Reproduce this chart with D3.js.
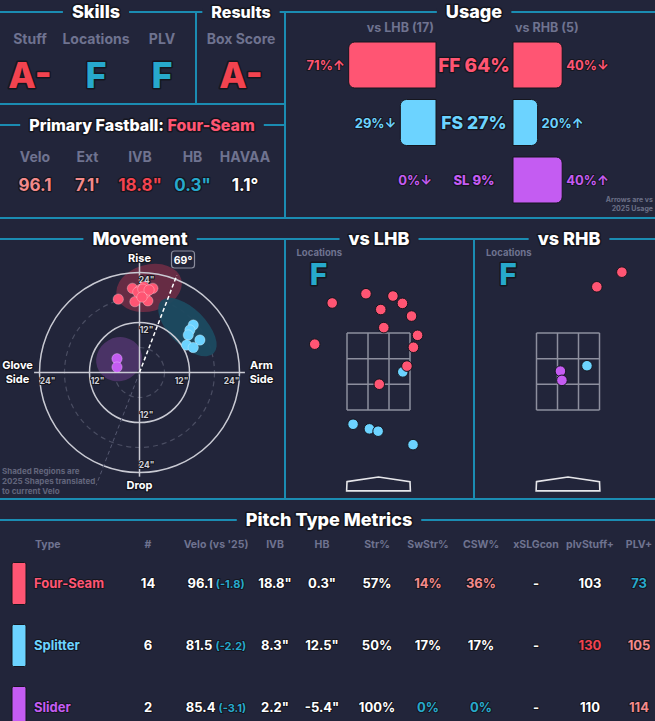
<!DOCTYPE html>
<html>
<head>
<meta charset="utf-8">
<script src="https://cdn.jsdelivr.net/npm/d3@7"></script>
<style>
html, body { margin: 0; padding: 0; background: #22253a; overflow: hidden; }
svg { display: block; font-family: Inter, "Open Sans", sans-serif; }
.o { paint-order: stroke; stroke: #15161f; stroke-linejoin: round; }
</style>
</head>
<body>
<svg id="chart" width="655" height="721"></svg>
<script>
// ---- data ----
const skillLabels = ["Stuff", "Locations", "PLV"];
const skillGrades = ["A-", "F", "F"];
const resultLabels = ["Box Score"];
const resultGrades = ["A-"];

const fbLabels = ["Velo", "Ext", "IVB", "HB", "HAVAA"];
const fbValues = ["96.1", "7.1'", "18.8\"", "0.3\"", "1.1°"];
const fbTiers = [1, 1, 2, -2, 0];

const usageCodes = ["FF", "FS", "SL"];
const usageTotal = [64, 27, 9];
const usageLHB = [71, 29, 0];
const usageRHB = [40, 20, 40];
const arrowLHB = ["↑", "↓", "↓"];
const arrowRHB = ["↓", "↑", "↑"];
const battersLHB = 17, battersRHB = 5;

// movement, inches (HB arm side +, IVB)
const ffHB = [-5.1, -1.7, -1.1, 0.1, 1.1, 1.7, 2.0, 3.2, 1.3, 0.5, -0.4, 0.8, 2.3, 0.6];
const ffIVB = [17.6, 20.2, 17.0, 19.8, 20.6, 19.4, 17.2, 20.2, 19.0, 18.6, 19.3, 20.0, 19.8, 18.1];
const fsHB = [12.9, 12.1, 11.7, 14.5, 11.3, 12.9];
const fsIVB = [11.4, 10.2, 9.0, 7.8, 6.6, 6.0];
const slHB = [-5.4, -5.4];
const slIVB = [3.3, 1.3];
const armAngle = 69;

// 2025 shapes (inches)
const shapeHB = [2.3, 11.5, -4.9];
const shapeIVB = [20.3, 10.9, 3.2];
const shapeRX = [8.0, 8.9, 5.6];
const shapeRY = [5.6, 4.4, 5.2];
const shapeAngle = [-15, 45, -30];

// locations, feet (plate x, height z)
const lhbFF = [[-0.33, 4.52], [-1.22, 4.28], [0.38, 4.46], [0.63, 4.27], [0.06, 4.11], [0.87, 3.94],
               [0.14, 3.64], [1.03, 3.44], [-1.68, 3.21], [0.92, 3.13], [0.75, 2.64], [0.02, 2.17]];
const lhbFS = [[0.64, 2.49], [-0.67, 1.13], [-0.24, 1.01], [-0.01, 0.95], [0.91, 0.60]];
const rhbFF = [[0.76, 4.70], [1.42, 5.08]];
const rhbFS = [[0.50, 2.65]];
const rhbSL = [[-0.20, 2.51], [-0.16, 2.27]];
const locGradeLHB = "F", locGradeRHB = "F";

// pitch type metrics
const pitchNames = ["Four-Seam", "Splitter", "Slider"];
const pitchCounts = [14, 6, 2];
const pitchVelo = [96.1, 81.5, 85.4];
const veloDiff = [-1.8, -2.2, -3.1];
const pitchIVB = [18.8, 8.3, 2.2];
const pitchHB = [0.3, 12.5, -5.4];
const strPct = [57, 50, 100];
const swStrPct = [14, 17, 0];
const cswPct = [36, 17, 0];
const xslgCon = ["-", "-", "-"];
const plvStuff = [103, 130, 110];
const plvPlus = [73, 105, 114];
const swStrTier = [1, 0, -2];
const cswTier = [1, 0, -2];
const stuffTier = [0, 2, 0];
const plvTier = [-2, 1, 1];

const tableHeaders = ["Type", "#", "Velo (vs '25)", "IVB", "HB", "Str%", "SwStr%", "CSW%", "xSLGcon", "plvStuff+", "PLV+"];

// ---- styles ----
const BG = "#22253a";
const LINE = "#1b8cb2";
const GRAY = "#6f7390";
const pitchColor = {FF: "#ff5573", FS: "#6cd3ff", SL: "#c45cf2"};
const shapeColor = {FF: "#6a2c45", FS: "#1c4a60", SL: "#4d3468"};
const tierColor = d3.scaleOrdinal().domain([2, 1, 0, -1, -2])
    .range(["#f2434f", "#f38a8b", "#ffffff", "#8fd6ec", "#27a9cc"]);
const gradeColor = g => g.startsWith("A") || g.startsWith("B") ? "#f2434f" : "#27a9cc";

const svg = d3.select("#chart");
svg.append("rect").attr("width", 655).attr("height", 721).attr("fill", BG);

// frame lines
const frameSegs = [[0, 12, 655, 12], [196, 12, 196, 104], [285, 12, 285, 218], [0, 104, 285, 104],
    [0, 125, 285, 125], [0, 218, 655, 218], [0, 239, 655, 239], [285, 239, 285, 499],
    [474, 239, 474, 499], [0, 499, 655, 499], [0, 520, 655, 520]];
svg.append("g").selectAll("line").data(frameSegs).join("line")
    .attr("x1", d => d[0]).attr("y1", d => d[1]).attr("x2", d => d[2]).attr("y2", d => d[3])
    .attr("stroke", LINE).attr("stroke-width", 2);

function title(x, y, parts, size) {
    const g = svg.append("g");
    const t = g.append("text").attr("x", x).attr("y", y + size * 0.36)
        .attr("text-anchor", "middle").attr("font-size", size).attr("font-weight", 800)
        .attr("class", "o").attr("stroke-width", 3);
    parts.forEach(p => t.append("tspan").attr("fill", p[1]).text(p[0]));
    const bb = t.node().getBBox();
    g.insert("rect", "text").attr("x", bb.x - 9).attr("y", y - 4)
        .attr("width", bb.width + 18).attr("height", 8).attr("fill", BG);
}

function label(g, x, y, s, size, fill, opts = {}) {
    const t = g.append("text").attr("x", x).attr("y", y).attr("font-size", size)
        .attr("font-weight", opts.weight || 700).attr("fill", fill)
        .attr("text-anchor", opts.anchor || "middle").text(s);
    if (opts.outline) t.attr("class", "o").attr("stroke-width", opts.outline);
    return t;
}

title(96, 12, [["Skills", "#fff"]], 18);
title(241, 12, [["Results", "#fff"]], 16);
title(474, 12, [["Usage", "#fff"]], 18);
title(142, 125, [["Primary Fastball: ", "#fff"], ["Four-Seam", pitchColor.FF]], 16);
title(140, 239, [["Movement", "#fff"]], 18);
title(379, 239, [["vs LHB", "#fff"]], 18);
title(569, 239, [["vs RHB", "#fff"]], 18);
title(329, 520, [["Pitch Type Metrics", "#fff"]], 18);

// ---- skills / results ----
const topG = svg.append("g");
const skillX = d3.scalePoint().domain(skillLabels).range([30, 162]);
skillLabels.forEach((s, i) => {
    label(topG, skillX(s), 44, s, 14, GRAY, {weight: 650});
    label(topG, skillX(s), 88, skillGrades[i], 36, gradeColor(skillGrades[i]), {outline: 3, weight: 800});
});
resultLabels.forEach((s, i) => {
    label(topG, 241, 44, s, 14, GRAY, {weight: 650});
    label(topG, 241, 88, resultGrades[i], 36, gradeColor(resultGrades[i]), {outline: 3, weight: 800});
});

const fbX = d3.scalePoint().domain(fbLabels).range([35, 245]);
fbLabels.forEach((s, i) => {
    label(topG, fbX(s), 162, s, 14, GRAY, {weight: 650});
    label(topG, fbX(s), 191, fbValues[i], 17, tierColor(fbTiers[i]), {outline: 2.5});
});

// ---- usage ----
const usage = svg.append("g");
const mid = 474, lhbEdge = 436, rhbEdge = 513, barH = 46;
const uW = d3.scaleLinear().domain([0, 100]).range([0, 123]);
const uY = d3.scalePoint().domain(usageCodes).range([65, 180]);
const uFont = d3.scaleLinear().domain([5, 25, 64]).range([12, 17.5, 19]);

label(usage, lhbEdge - 2, 32, `vs LHB (${battersLHB})`, 12.5, GRAY, {anchor: "end", weight: 650});
label(usage, rhbEdge + 2, 32, `vs RHB (${battersRHB})`, 12.5, GRAY, {anchor: "start", weight: 650});

function barPath(x0, x1, y, h, r, roundLeft) {
    const p = d3.path();
    if (roundLeft) {
        p.moveTo(x1, y); p.lineTo(x0 + r, y); p.arcTo(x0, y, x0, y + r, r);
        p.lineTo(x0, y + h - r); p.arcTo(x0, y + h, x0 + r, y + h, r); p.lineTo(x1, y + h);
    } else {
        p.moveTo(x0, y); p.lineTo(x1 - r, y); p.arcTo(x1, y, x1, y + r, r);
        p.lineTo(x1, y + h - r); p.arcTo(x1, y + h, x1 - r, y + h, r); p.lineTo(x0, y + h);
    }
    p.closePath();
    return p.toString();
}

usageCodes.forEach((c, i) => {
    const cy = uY(c);
    const wl = uW(usageLHB[i]), wr = uW(usageRHB[i]);
    if (wl > 0) usage.append("path").attr("d", barPath(lhbEdge - wl, lhbEdge, cy - barH / 2, barH, 6, true))
        .attr("fill", pitchColor[c]).attr("stroke", "#15161f").attr("stroke-width", 1);
    if (wr > 0) usage.append("path").attr("d", barPath(rhbEdge, rhbEdge + wr, cy - barH / 2, barH, 6, false))
        .attr("fill", pitchColor[c]).attr("stroke", "#15161f").attr("stroke-width", 1);
    label(usage, lhbEdge - wl - 4, cy + 5, `${usageLHB[i]}%${arrowLHB[i]}`, 13, pitchColor[c], {anchor: "end", outline: 2});
    label(usage, rhbEdge + wr + 4, cy + 5, `${usageRHB[i]}%${arrowRHB[i]}`, 13, pitchColor[c], {anchor: "start", outline: 2});
    const fs = uFont(usageTotal[i]);
    label(usage, mid, cy + fs * 0.36, `${c} ${usageTotal[i]}%`, fs, pitchColor[c], {outline: 2.5, weight: 800});
});
label(usage, 653, 202, "Arrows are vs", 7, "#6b6f86", {anchor: "end"});
label(usage, 653, 211, "2025 Usage", 7, "#6b6f86", {anchor: "end"});

// ---- movement ----
const mv = svg.append("g");
const mvCx = 139.5, mvCy = 372.5, mvR = 100;
const rIn = d3.scaleLinear().domain([0, 24]).range([0, mvR]);
const hbX = d3.scaleLinear().domain([-24, 24]).range([mvCx - mvR, mvCx + mvR]);
const ivbY = d3.scaleLinear().domain([-24, 24]).range([mvCy + mvR, mvCy - mvR]);

mv.selectAll("circle.ring").data([6, 18]).join("circle").attr("class", "ring")
    .attr("cx", mvCx).attr("cy", mvCy).attr("r", d => rIn(d))
    .attr("fill", "none").attr("stroke", "#4a4d62").attr("stroke-width", 1.2).attr("stroke-dasharray", "5,4");

// shaded 2025 shapes
usageCodes.forEach((c, i) => {
    mv.append("ellipse")
        .attr("transform", `translate(${hbX(shapeHB[i])},${ivbY(shapeIVB[i])}) rotate(${shapeAngle[i]})`)
        .attr("rx", rIn(shapeRX[i])).attr("ry", rIn(shapeRY[i]))
        .attr("fill", shapeColor[c]).attr("opacity", 0.95);
});

mv.selectAll("circle.solid").data([12, 24]).join("circle").attr("class", "solid")
    .attr("cx", mvCx).attr("cy", mvCy).attr("r", d => rIn(d))
    .attr("fill", "none").attr("stroke", "#c9cad3").attr("stroke-width", 1.5);
mv.append("line").attr("x1", hbX(-25.3)).attr("x2", hbX(25.3)).attr("y1", mvCy).attr("y2", mvCy)
    .attr("stroke", "#c9cad3").attr("stroke-width", 1.5);
mv.append("line").attr("x1", mvCx).attr("x2", mvCx).attr("y1", ivbY(27)).attr("y2", ivbY(-25))
    .attr("stroke", "#c9cad3").attr("stroke-width", 1.5);

// arm angle lines
const aRad = armAngle * Math.PI / 180;
mv.append("line").attr("x1", mvCx).attr("y1", mvCy)
    .attr("x2", mvCx - rIn(29) * Math.cos(aRad)).attr("y2", mvCy + rIn(29) * Math.sin(aRad))
    .attr("stroke", "#555870").attr("stroke-width", 1).attr("stroke-dasharray", "4,3");
mv.append("line").attr("x1", mvCx).attr("y1", mvCy)
    .attr("x2", mvCx + rIn(25) * Math.cos(aRad)).attr("y2", mvCy - rIn(25) * Math.sin(aRad))
    .attr("stroke", "#fff").attr("stroke-width", 1.5).attr("stroke-dasharray", "4,2.5");

[12, 24].forEach(r => {
    const s = `${r}"`;
    label(mv, hbX(-r) + 8, mvCy + 11, s, 8.5, "#d0d1d8", {outline: 2});
    label(mv, hbX(r) - 8, mvCy + 11, s, 8.5, "#d0d1d8", {outline: 2});
    label(mv, mvCx + 7, ivbY(r) + 10, s, 8.5, "#d0d1d8", {outline: 2});
    label(mv, mvCx + 7, ivbY(-r) - 5, s, 8.5, "#d0d1d8", {outline: 2});
});

label(mv, mvCx, 262, "Rise", 11, "#fff", {outline: 2.5});
label(mv, mvCx, 489, "Drop", 11, "#fff", {outline: 2.5});
label(mv, 17.5, 369, "Glove", 11, "#fff", {outline: 2.5});
label(mv, 17.5, 382.5, "Side", 11, "#fff", {outline: 2.5});
label(mv, 261.5, 369, "Arm", 11, "#fff", {outline: 2.5});
label(mv, 261.5, 382.5, "Side", 11, "#fff", {outline: 2.5});

mv.append("rect").attr("x", 171.5).attr("y", 251).attr("width", 23).attr("height", 17).attr("rx", 3)
    .attr("fill", BG).attr("stroke", "#8a8c9c").attr("stroke-width", 1.2);
label(mv, 183, 263.5, `${armAngle}°`, 10.5, "#fff");

const mvSets = [["SL", slHB, slIVB], ["FS", fsHB, fsIVB], ["FF", ffHB, ffIVB]];
mvSets.forEach(([c, hb, ivb]) => {
    mv.append("g").selectAll("circle").data(d3.zip(hb, ivb)).join("circle")
        .attr("cx", d => hbX(d[0])).attr("cy", d => ivbY(d[1])).attr("r", 5.2)
        .attr("fill", pitchColor[c]).attr("stroke", "rgba(255,255,255,0.35)").attr("stroke-width", 0.8);
});

["Shaded Regions are", "2025 Shapes translated", "to current Velo"].forEach((s, i) => {
    label(mv, 2, 474 + i * 10, s, 8, "#62657c", {anchor: "start"});
});

// ---- locations ----
function locPanel(cx, grade, sets) {
    const g = svg.append("g");
    const lx = d3.scaleLinear().domain([-0.83, 0.83]).range([cx - 31.5, cx + 31.5]);
    const lz = d3.scaleLinear().domain([1.5, 3.5]).range([410, 333]);
    label(g, cx - 82, 255.5, "Locations", 9.5, GRAY, {anchor: "start"});
    label(g, cx - 60, 285, grade, 30, gradeColor(grade), {outline: 3, weight: 800});

    const xs = d3.range(4).map(i => -0.83 + i * 1.66 / 3);
    const zs = d3.range(4).map(i => 1.5 + i * 2 / 3);
    g.selectAll("line.v").data(xs).join("line").attr("class", "v")
        .attr("x1", d => lx(d)).attr("x2", d => lx(d)).attr("y1", lz(1.5)).attr("y2", lz(3.5))
        .attr("stroke", "#8d8f9e").attr("stroke-width", 1.5);
    g.selectAll("line.h").data(zs).join("line").attr("class", "h")
        .attr("x1", lx(-0.83)).attr("x2", lx(0.83)).attr("y1", d => lz(d)).attr("y2", d => lz(d))
        .attr("stroke", "#8d8f9e").attr("stroke-width", 1.5);

    const plate = [[-0.83, -0.36], [0, -0.24], [0.83, -0.36], [0.84, -0.6], [-0.84, -0.6]];
    g.append("polygon").attr("points", plate.map(p => [lx(p[0]), lz(p[1])].join(",")).join(" "))
        .attr("fill", "none").attr("stroke", "#e6e6ea").attr("stroke-width", 1.6);

    sets.forEach(([c, pts]) => {
        g.append("g").selectAll("circle").data(pts).join("circle")
            .attr("cx", d => lx(d[0])).attr("cy", d => lz(d[1])).attr("r", 5.3)
            .attr("fill", pitchColor[c]).attr("stroke", "#15161f").attr("stroke-width", 1);
    });
}
locPanel(378.5, locGradeLHB, [["FS", lhbFS], ["FF", lhbFF]]);
locPanel(568, locGradeRHB, [["FS", rhbFS], ["SL", rhbSL], ["FF", rhbFF]]);

// ---- table ----
const tbl = svg.append("g");
const colX = [35, 148, 216, 275, 322, 377, 428, 481, 536, 590, 639];
tableHeaders.forEach((h, i) => {
    label(tbl, colX[i], 548, h, 10.5, GRAY, {weight: 650, anchor: i === 0 ? "start" : "middle"});
});
const rowY = d3.scalePoint().domain(pitchNames).range([583.5, 707.5]);
const fmt1 = v => v.toFixed(1);
pitchNames.forEach((name, i) => {
    const c = usageCodes[i];
    const y = rowY(name), base = y + 4.7;
    tbl.append("rect").attr("x", 12).attr("y", y - 21).attr("width", 14).attr("height", 42).attr("rx", 1.5)
        .attr("fill", pitchColor[c]).attr("stroke", "#15161f").attr("stroke-width", 1);
    label(tbl, 34, base, name, 13, pitchColor[c], {anchor: "start", outline: 2});
    const w = "#fff";
    label(tbl, colX[1], base, pitchCounts[i], 13, w, {outline: 2});
    const vt = label(tbl, colX[2], base, "", 13, w, {outline: 2});
    vt.append("tspan").text(fmt1(pitchVelo[i]) + " ");
    vt.append("tspan").attr("font-size", 11).attr("fill", "#27a9cc").text(`(${fmt1(veloDiff[i])})`);
    label(tbl, colX[3], base, fmt1(pitchIVB[i]) + '"', 13, w, {outline: 2});
    label(tbl, colX[4], base, fmt1(pitchHB[i]) + '"', 13, w, {outline: 2});
    label(tbl, colX[5], base, strPct[i] + "%", 13, w, {outline: 2});
    label(tbl, colX[6], base, swStrPct[i] + "%", 13, tierColor(swStrTier[i]), {outline: 2});
    label(tbl, colX[7], base, cswPct[i] + "%", 13, tierColor(cswTier[i]), {outline: 2});
    label(tbl, colX[8], base, xslgCon[i], 13, w, {outline: 2});
    label(tbl, colX[9], base, plvStuff[i], 13, tierColor(stuffTier[i]), {outline: 2});
    label(tbl, colX[10], base, plvPlus[i], 13, tierColor(plvTier[i]), {outline: 2});
});
</script>
</body>
</html>
